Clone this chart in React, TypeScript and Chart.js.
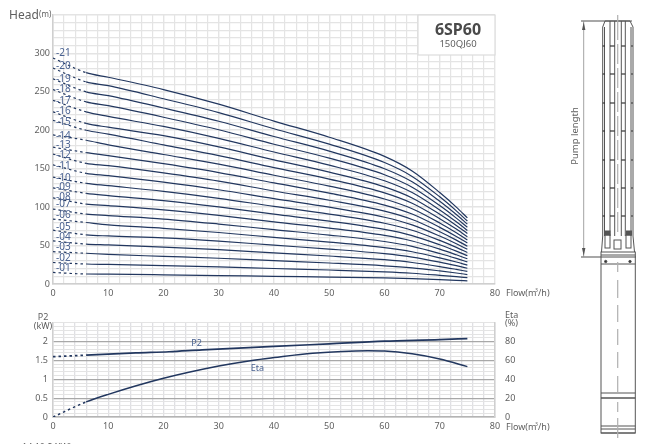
import React, { useEffect, useRef } from "react";
import { Chart, registerables } from "chart.js";

Chart.register(...registerables);

const FONT = "'Noto Sans', 'Noto Sans CJK KR', sans-serif";
const NAVY = "#22375f";
const LABEL_BLUE = "#4a6291";
const TEXT = "#5f5f5f";

const flow = [0, 6, 10, 20, 30, 40, 50, 60, 65, 70, 73, 75];
const s01 = [15, 13, 12.8, 12, 11, 10, 9, 8, 7, 5.7, 4.8, 4.1];
const s02 = [28, 26, 25.5, 24, 22.3, 20.2, 18.2, 15.8, 14, 11.3, 9.5, 8.2];
const s03 = [42, 40, 38.5, 36, 33.5, 30.3, 27.3, 23.7, 21, 17, 14.3, 12.3];
const s04 = [56, 52, 51, 48, 44.6, 40.4, 36.4, 31.6, 28, 22.7, 19, 16.4];
const s05 = [70, 64, 62.5, 60, 55.8, 50.5, 45.5, 39.5, 35, 28.4, 23.8, 20.5];
const s06 = [84.5, 80, 77, 72.5, 67, 60.6, 54.6, 47.4, 42, 34, 28.6, 24.6];
const s07 = [97.5, 91, 89, 84.5, 78, 70.7, 63.7, 55.3, 49, 39.7, 33.3, 28.7];
const s08 = [112, 104, 102, 96.5, 89.2, 80.8, 72.8, 63.2, 56, 45.4, 38, 32.8];
const s09 = [125, 118, 115, 108.5, 100.3, 90.9, 81.9, 71, 63, 51, 42.8, 36.9];
const s10 = [139, 131, 128, 120.5, 111.5, 101, 91, 79, 70, 56.7, 47.6, 41];
const s11 = [155, 144, 141, 132.5, 122.6, 111, 100, 86.9, 77, 62.4, 52.4, 45.1];
const s12 = [169, 157, 154, 144.5, 133.8, 121, 109, 94.8, 84, 68, 57.1, 49.2];
const s13 = [178, 171, 167, 156.5, 145, 131.5, 118.3, 102.7, 91, 73.7, 61.9, 53.3];
const s14 = [194, 187, 181, 168.5, 156, 141.5, 127.4, 110.6, 98, 79.4, 66.6, 57.4];
const s15 = [213, 200, 195, 181, 167, 151.5, 136.5, 118.5, 105, 85, 71.4, 61.5];
const s16 = [224, 209, 204, 193, 178.4, 161.6, 145.6, 126.4, 112, 90.7, 76.2, 65.6];
const s17 = [239, 224, 218, 205, 189.5, 171.7, 154.7, 134.3, 119, 96.4, 80.9, 69.7];
const s18 = [253, 237, 232, 217, 200.7, 181.8, 163.8, 142.2, 126, 102, 85.7, 73.8];
const s19 = [267, 250, 245, 229, 211.8, 191.9, 172.9, 150, 133, 107.7, 90.4, 77.9];
const s20 = [281, 263, 258, 241, 223, 202, 182, 158, 140, 113.4, 95.2, 82];
const s21 = [294, 275, 269, 253, 234, 212, 191, 166, 147, 119, 100, 86];
const headSeries = [s01, s02, s03, s04, s05, s06, s07, s08, s09, s10, s11, s12, s13, s14, s15, s16, s17, s18, s19, s20, s21];

const stageLabels = ["-01", "-02", "-03", "-04", "-05", "-06", "-07", "-08", "-09", "-10", "-11", "-12", "-13", "-14", "-15", "-16", "-17", "-18", "-19", "-20", "-21"];
const stageLabelHeads = [20.8, 33.8, 48, 61.5, 74.5, 89, 104, 113, 126, 138, 153.5, 167, 181, 193, 211, 224.6, 238, 253, 267, 283, 300];

const powerFlow = [0, 6, 15, 21, 27, 40, 50, 60, 70, 75];
const p2Values = [1.6, 1.64, 1.7, 1.73, 1.78, 1.87, 1.94, 2.01, 2.05, 2.08];
const etaFlow = [0, 6, 10, 20, 30, 36, 40, 47, 57, 60, 65, 70, 75];
const etaValues = [0, 16, 24, 41, 54, 60, 63, 67.6, 70.3, 70, 67, 61.5, 53.4];

const flowTicks = (v: any) => (Number(v) % 10 === 0 ? String(v) : "");

function segmentDash(limit: number) {
  return { borderDash: (ctx: any) => (ctx.p0.parsed.x < limit ? [2.5, 3] : undefined) };
}

function textPlugin(draw: (c: CanvasRenderingContext2D, chart: any) => void) {
  return {
    id: "texts",
    afterDraw(chart: any) {
      const c = chart.ctx;
      c.save();
      draw(c, chart);
      c.restore();
    },
  };
}

function put(c: CanvasRenderingContext2D, s: string, x: number, y: number, size: number, color = TEXT, align: CanvasTextAlign = "left", weight = "400") {
  c.font = `${weight} ${size}px ${FONT}`;
  c.fillStyle = color;
  c.textAlign = align;
  c.textBaseline = "middle";
  c.fillText(s, x, y);
}

function flowLabel(c: CanvasRenderingContext2D, y: number) {
  put(c, "Flow(m", 506, y, 9);
  put(c, "3", 535, y - 2.5, 5);
  put(c, "/h)", 538, y, 9);
}

export default function App() {
  const headRef = useRef<HTMLCanvasElement>(null);
  const powerRef = useRef<HTMLCanvasElement>(null);

  useEffect(() => {
    const head = new Chart(headRef.current as HTMLCanvasElement, {
      type: "line",
      data: {
        datasets: headSeries.map((vals, i) => ({
          label: stageLabels[i],
          data: vals.map((y, k) => ({ x: flow[k], y })),
          borderColor: NAVY,
          borderWidth: 1.2,
          pointRadius: 0,
          cubicInterpolationMode: "monotone" as const,
          segment: segmentDash(6),
        })),
      },
      options: {
        responsive: false,
        animation: false,
        layout: { padding: { left: 0, right: 157, top: 15, bottom: 0 } },
        plugins: { legend: { display: false }, tooltip: { enabled: false } },
        scales: {
          x: {
            type: "linear",
            min: 0,
            max: 80,
            afterFit: (s: any) => { s.height = 16; },
            border: { color: "#cfcfcf", width: 1.5 },
            grid: { color: "#e4e4e4", lineWidth: (c: any) => (c.tick.value % 10 === 0 ? 1.4 : 1.2), drawTicks: false },
            ticks: { stepSize: 2, autoSkip: false, maxRotation: 0, padding: 4, color: TEXT, font: { family: FONT, size: 9 }, callback: flowTicks },
          },
          y: {
            min: 0,
            max: 350,
            afterFit: (s: any) => { s.width = 53; },
            border: { color: "#cfcfcf", width: 1.5 },
            grid: { color: "#e4e4e4", lineWidth: (c: any) => (c.tick.value % 50 === 0 ? 1.6 : 1.2), drawTicks: false },
            ticks: { stepSize: 10, autoSkip: false, padding: 3, color: TEXT, font: { family: FONT, size: 9 }, callback: (v: any) => (Number(v) % 50 === 0 && Number(v) < 350 ? String(v) : "") },
          },
        },
      },
      plugins: [
        textPlugin((c, chart) => {
          const { x, y } = chart.scales;
          stageLabels.forEach((s, i) => put(c, s, x.getPixelForValue(0) + 3, y.getPixelForValue(stageLabelHeads[i]), 10, LABEL_BLUE));
          c.fillStyle = "#ffffff";
          c.strokeStyle = "#dcdcdc";
          c.lineWidth = 1.2;
          c.fillRect(418, 15, 77, 40);
          c.strokeRect(418, 15, 77, 40);
          put(c, "6SP60", 458, 30, 16, "#4a4a4a", "center", "700");
          put(c, "150QJ60", 458, 44, 9.5, "#5f5f5f", "center");
          put(c, "Head", 9, 16, 12);
          put(c, "(m)", 39, 15, 8);
          flowLabel(c, 293);
        }),
      ],
    } as any);

    const power = new Chart(powerRef.current as HTMLCanvasElement, {
      type: "line",
      data: {
        datasets: [
          {
            label: "P2",
            data: powerFlow.map((x, k) => ({ x, y: p2Values[k] })),
            borderColor: NAVY,
            borderWidth: 1.7,
            pointRadius: 0,
            yAxisID: "y",
            cubicInterpolationMode: "monotone" as const,
            segment: segmentDash(6),
          },
          {
            label: "Eta",
            data: etaFlow.map((x, k) => ({ x, y: etaValues[k] })),
            borderColor: NAVY,
            borderWidth: 1.5,
            pointRadius: 0,
            yAxisID: "y1",
            cubicInterpolationMode: "monotone" as const,
            segment: segmentDash(6),
          },
        ],
      },
      options: {
        responsive: false,
        animation: false,
        layout: { padding: { left: 0, right: 105, top: 22.7, bottom: 0 } },
        plugins: { legend: { display: false }, tooltip: { enabled: false } },
        scales: {
          x: {
            type: "linear",
            min: 0,
            max: 80,
            afterFit: (s: any) => { s.height = 27; },
            border: { color: "#b4b4b4", width: 1.5 },
            grid: { color: "#e0e0e4", lineWidth: 1.3, drawTicks: false },
            ticks: { stepSize: 2, autoSkip: false, maxRotation: 0, padding: 4, color: TEXT, font: { family: FONT, size: 9 }, callback: flowTicks },
          },
          y: {
            min: 0,
            max: 2.5,
            afterFit: (s: any) => { s.width = 53; },
            border: { color: "#cfcfcf", width: 1.5 },
            grid: {
              color: (c: any) => (Math.round(c.tick.value * 10) % 5 === 0 && c.tick.value < 2.4 ? "#a8a8a8" : "#e4e4e4"),
              lineWidth: (c: any) => (Math.round(c.tick.value * 10) % 5 === 0 && c.tick.value < 2.4 ? 1.2 : 1),
              drawTicks: false,
            },
            ticks: {
              stepSize: 0.1,
              autoSkip: false,
              padding: 5,
              color: TEXT,
              font: { family: FONT, size: 9 },
              callback: (v: any) => {
                const t = Math.round(Number(v) * 10);
                return t % 5 === 0 && t < 25 ? String(t / 10) : "";
              },
            },
          },
          y1: {
            position: "right",
            min: 0,
            max: 100,
            afterFit: (s: any) => { s.width = 52; },
            border: { color: "#cfcfcf", width: 1.5 },
            grid: { drawOnChartArea: false, drawTicks: false },
            ticks: { stepSize: 20, padding: 10, color: TEXT, font: { family: FONT, size: 9 }, callback: (v: any) => (Number(v) < 100 ? String(v) : "") },
          },
        },
      },
      plugins: [
        textPlugin((c, chart) => {
          const { x, y } = chart.scales;
          put(c, "P2", x.getPixelForValue(26), y.getPixelForValue(1.94), 9, LABEL_BLUE, "center");
          put(c, "Eta", x.getPixelForValue(37), y.getPixelForValue(1.3), 9, LABEL_BLUE, "center");
          put(c, "P2", 43, 17, 9, TEXT, "center");
          put(c, "(kW)", 43, 26, 9, TEXT, "center");
          put(c, "Eta", 505, 15, 9);
          put(c, "(%)", 505, 23.5, 9);
          flowLabel(c, 127);
        }),
      ],
    } as any);

    return () => {
      head.destroy();
      power.destroy();
    };
  }, []);

  const g = "#555";
  const joints = [46, 74, 103, 131, 160, 188, 216];
  const dashes: [number, number][] = [[15, 40], [44, 64], [68, 88], [92, 112], [116, 136], [140, 160], [164, 184], [188, 208], [212, 232]];
  const motorDashes: [number, number][] = [[262, 272], [280, 298], [305, 322], [329, 345], [352, 368], [376, 392], [402, 412], [418, 438]];

  return (
    <div style={{ position: "fixed", left: 0, top: 0, width: 652, height: 444, background: "#fff", overflow: "hidden" }}>
      <canvas ref={headRef} width={652} height={300} style={{ position: "absolute", left: 0, top: 0 }} />
      <canvas ref={powerRef} width={652} height={144} style={{ position: "absolute", left: 0, top: 300 }} />
      <svg width={652} height={444} style={{ position: "absolute", left: 0, top: 0, pointerEvents: "none" }}>
        <text x={22} y={450} fontSize={9} fill={TEXT} fontFamily={FONT}>14.10.24(W)</text>
        <g stroke={g} strokeWidth={1} fill="none">
          <line x1={581} y1={21} x2={632} y2={21} stroke="#8a8a8a" strokeWidth={1.3} />
          <line x1={581} y1={257} x2={636} y2={257} stroke="#8a8a8a" strokeWidth={1.5} />
          <line x1={583.7} y1={21} x2={583.7} y2={257} stroke="#8a8a8a" strokeWidth={0.8} />
          <path d="M605 21 L630 21 L633 27 L633 236 M605 21 L602.7 27 L602.7 236" />
          <line x1={604.5} y1={27} x2={604.5} y2={236} />
          <line x1={631} y1={27} x2={631} y2={236} />
          {[610, 614.7, 621.3, 625.3].map((x) => <line key={x} x1={x} y1={21} x2={x} y2={236} />)}
          {joints.map((y) => <g key={y} strokeWidth={1.2} stroke="#333"><line x1={602.7} y1={y} x2={605} y2={y} /><line x1={610} y1={y} x2={614.7} y2={y} /><line x1={621.3} y1={y} x2={625.3} y2={y} /><line x1={631} y1={y} x2={633} y2={y} /></g>)}
          <path d="M602.7 236 L601.5 252 M633 236 L634.5 252" />
          <rect x={605} y={231} width={5} height={4} fill="#555" />
          <rect x={626.5} y={231} width={5} height={4} fill="#555" />
          <rect x={614} y={240} width={7} height={9} />
          <rect x={605} y={235} width={5} height={13} />
          <rect x={626} y={235} width={5} height={13} />
          <rect x={601} y={252} width={34.3} height={181} />
          <line x1={601} y1={255} x2={635.3} y2={255} />
          <line x1={601} y1={264} x2={635.3} y2={264} />
          <circle cx={605.7} cy={261.5} r={1.2} fill="#333" />
          <circle cx={630} cy={261.5} r={1.2} fill="#333" />
          <line x1={601} y1={393} x2={635.3} y2={393} strokeWidth={1.2} />
          <line x1={601} y1={398} x2={635.3} y2={398} strokeWidth={1.4} />
          <line x1={601} y1={426} x2={635.3} y2={426} strokeWidth={1.2} />
          <line x1={601} y1={429} x2={635.3} y2={429} />
          <line x1={601} y1={433} x2={635.3} y2={433} strokeWidth={1.2} />
        </g>
        <polygon points="583.7,22 582,30 585.4,30" fill="#555" />
        <polygon points="583.7,256 582,248 585.4,248" fill="#555" />
        <g stroke="#b0b0b0" strokeWidth={1.2}>
          {dashes.map(([a, b]) => <line key={a} x1={617.7} y1={a} x2={617.7} y2={b} />)}
          {motorDashes.map(([a, b]) => <line key={a} x1={617.7} y1={a} x2={617.7} y2={b} />)}
        </g>
        <text transform="translate(578,136) rotate(-90)" textAnchor="middle" fontSize={9.5} fill={TEXT} fontFamily={FONT}>Pump length</text>
      </svg>
    </div>
  );
}
